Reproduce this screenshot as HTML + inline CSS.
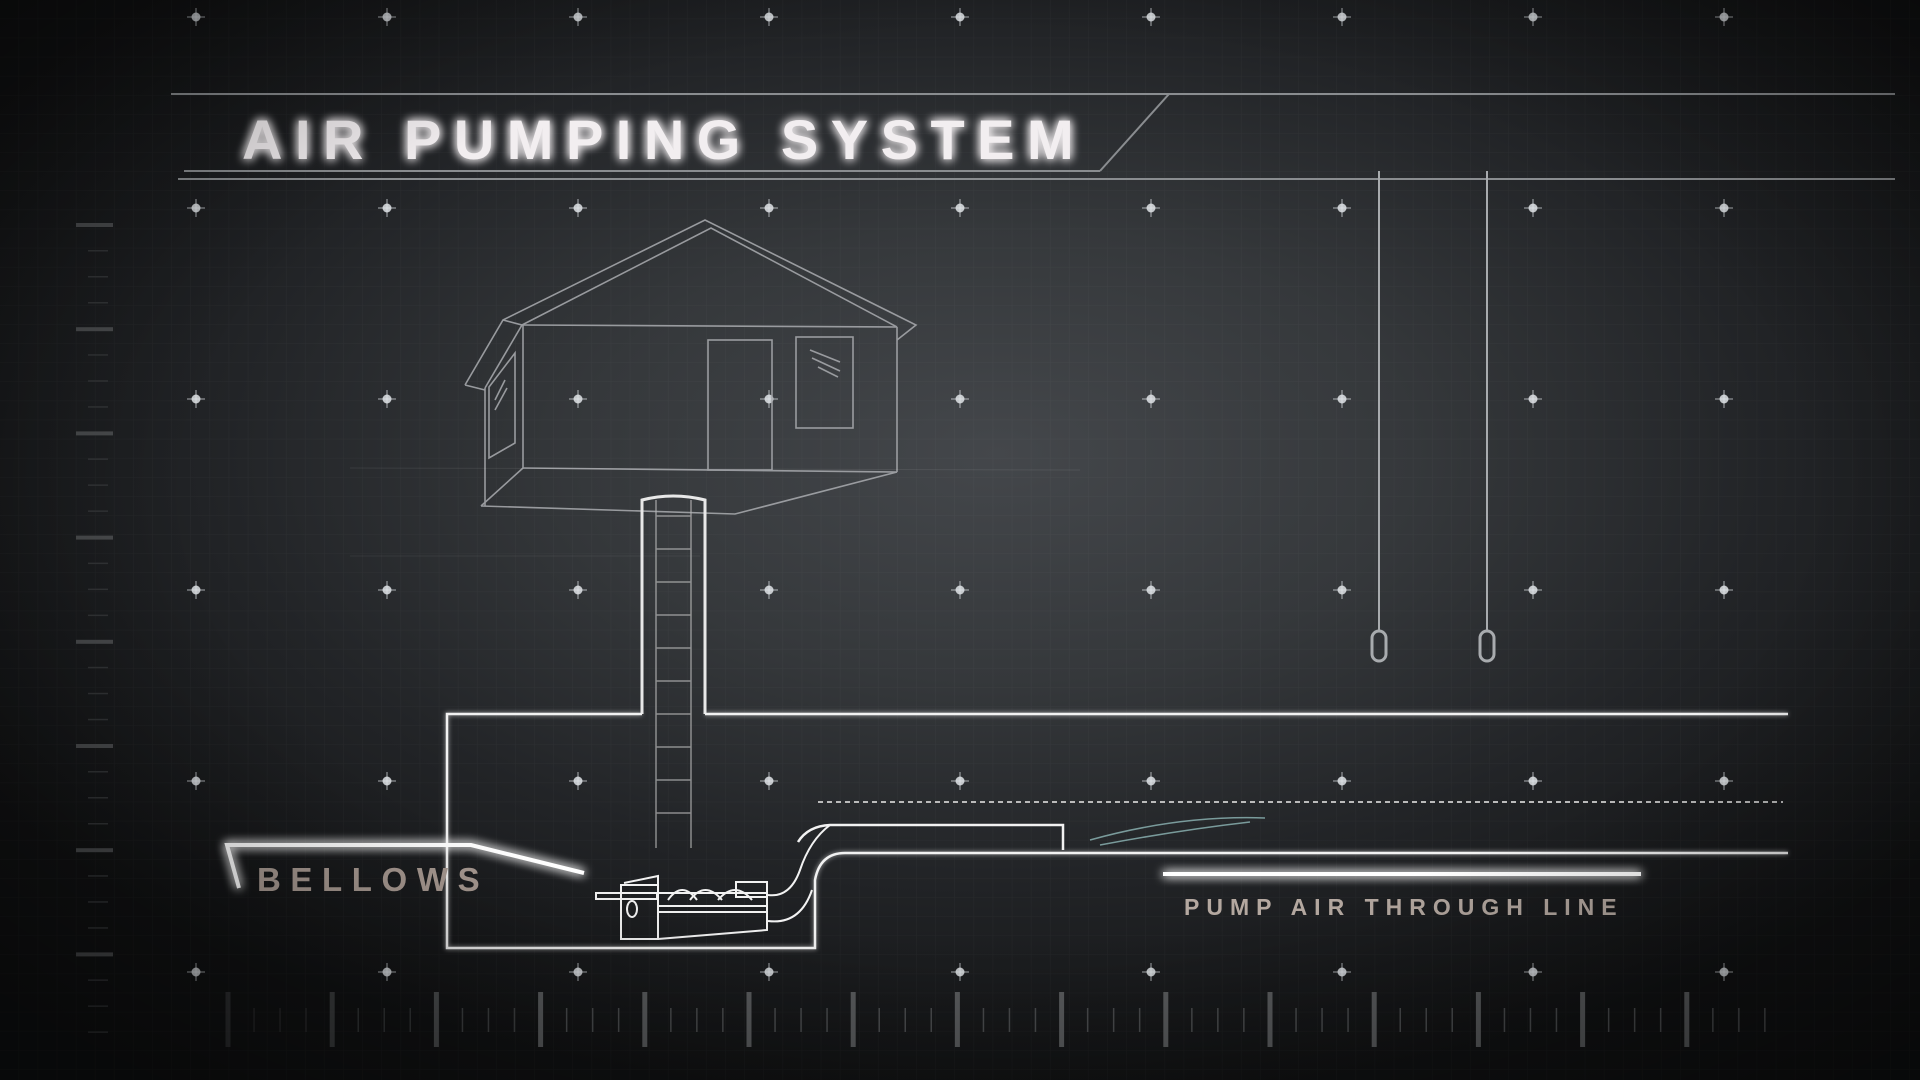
<!DOCTYPE html>
<html><head><meta charset="utf-8"><style>
html,body{margin:0;padding:0;background:#0e0f10;}
#c{position:relative;width:1920px;height:1080px;overflow:hidden;
background:radial-gradient(ellipse 62% 60% at 52% 42%,#44474b 0%,#35383b 35%,#222427 65%,#111213 100%);}
svg{position:absolute;left:0;top:0;}
.t{font-family:"Liberation Sans",Arial,sans-serif;font-weight:bold;}
</style></head><body><div id="c">
<svg width="1920" height="1080" viewBox="0 0 1920 1080">
<defs>
<pattern id="g" width="19.1" height="19.1" patternUnits="userSpaceOnUse"><path d="M19.1 0V19.1H0" fill="none" stroke="#ffffff" stroke-opacity="0.035" stroke-width="1"/></pattern>
<filter id="glow" filterUnits="userSpaceOnUse" x="0" y="0" width="1920" height="1080"><feGaussianBlur stdDeviation="5" result="b"/><feMerge><feMergeNode in="b"/><feMergeNode in="b"/><feMergeNode in="SourceGraphic"/></feMerge></filter>
<filter id="soft" filterUnits="userSpaceOnUse" x="0" y="0" width="1920" height="1080"><feGaussianBlur stdDeviation="2.5"/></filter>
<radialGradient id="vig" cx="52%" cy="45%" r="70%"><stop offset="60%" stop-color="#000" stop-opacity="0"/><stop offset="100%" stop-color="#000" stop-opacity="0.5"/></radialGradient>
</defs>
<rect width="1920" height="1080" fill="url(#g)"/>
<g fill="#e0e4e8" id="dots"></g>
<g stroke="#8a8d90" stroke-width="2" fill="none">
<line x1="171" y1="94" x2="1895" y2="94"/>
<line x1="1169" y1="94" x2="1100" y2="171"/>
<line x1="184" y1="171" x2="1100" y2="171"/>
<line x1="178" y1="179" x2="1895" y2="179"/>
</g>
<text class="t" x="242" y="159" font-size="56" fill="#f2eef0" letter-spacing="12.5" filter="url(#glow)">AIR PUMPING SYSTEM</text>
<g stroke="#a4a6aa" stroke-width="1.6" fill="none" opacity="0.9">
<polyline points="465,385 503,320 705,220 916,325 897,340"/>
<polyline points="465,385 485,390"/>
<polyline points="503,320 522,325 711,228 897,327"/>
<line x1="522" y1="325" x2="897" y2="327"/>
<line x1="523" y1="325" x2="523" y2="468"/>
<line x1="897" y1="327" x2="897" y2="472"/>
<line x1="523" y1="468" x2="897" y2="472"/>
<line x1="485" y1="388" x2="485" y2="506"/>
<line x1="485" y1="388" x2="522" y2="325"/>
<polyline points="481,506 735,514 897,472"/>
<line x1="481" y1="506" x2="523" y2="468"/>
<rect x="708" y="340" width="64" height="130"/>
<rect x="796" y="337" width="57" height="91"/>
<polygon points="489,387 515,353 515,443 489,458"/>
<line x1="810" y1="350" x2="840" y2="362"/><line x1="812" y1="358" x2="840" y2="371"/><line x1="818" y1="367" x2="838" y2="377"/>
<line x1="495" y1="400" x2="505" y2="380"/><line x1="495" y1="410" x2="507" y2="388"/>
</g>
<line x1="350" y1="468" x2="1080" y2="470" stroke="#ffffff" stroke-opacity="0.08"/>
<line x1="350" y1="556" x2="700" y2="556" stroke="#ffffff" stroke-opacity="0.06"/>
<g stroke="#a8abae" stroke-width="2" fill="none">
<line x1="1379" y1="171" x2="1379" y2="631"/>
<line x1="1487" y1="171" x2="1487" y2="631"/>
<rect x="1372" y="631" width="14" height="30" rx="7" stroke-width="3"/>
<rect x="1480" y="631" width="14" height="30" rx="7" stroke-width="3"/>
</g>
<g stroke="#e8e8e8" stroke-width="3" fill="none">
<path d="M642 714 V500 Q673 492 705 500 V714"/>
</g>
<g stroke="#b8b8b8" stroke-width="1.5" fill="none" opacity="0.7">
<line x1="656" y1="500" x2="656" y2="848"/><line x1="691" y1="500" x2="691" y2="848"/>
<g id="rungs"></g>
</g>
<g stroke="#eeeeee" stroke-width="3" fill="none" filter="url(#soft)" opacity="0.6">
<path d="M1788 714 H705 M642 714 H447 V948 H815 V880 Q820 853 845 853 H1788"/>
</g>
<g stroke="#f2f2f2" stroke-width="2.5" fill="none">
<path d="M1788 714 H705 M642 714 H447 V948 H815 V880 Q820 853 845 853 H1788"/>
<path d="M798 842 Q808 826 830 825 H1063 V850"/>
<line x1="818" y1="802" x2="1783" y2="802" stroke-dasharray="5 4" stroke-width="2" stroke="#bbb"/>
</g>
<g stroke="#8fb8b8" stroke-width="1.5" fill="none" opacity="0.8">
<path d="M1090 840 Q1180 815 1265 818"/><path d="M1100 845 Q1180 830 1250 822"/>
</g>
<g stroke="#f2f2f2" stroke-width="2" fill="none">
<rect x="596" y="893" width="61" height="6"/>
<rect x="621" y="885" width="37" height="54"/>
<polyline points="624,883 658,876 658,885"/>
<ellipse cx="632" cy="909" rx="5" ry="8"/>
<polyline points="658,893 767,893 767,930 658,939"/>
<line x1="658" y1="906" x2="767" y2="906"/><line x1="658" y1="912" x2="767" y2="912"/>
<path d="M668 900 Q682 880 697 900 M690 900 Q705 880 722 900 M718 900 Q735 880 752 900"/>
<rect x="736" y="882" width="31" height="15"/>
<path d="M768 895 Q790 898 800 870 Q810 840 830 825"/>
<path d="M768 921 Q800 925 812 890"/>
</g>
<g stroke="#ffffff" stroke-width="4" fill="none" filter="url(#glow)">
<polyline points="239,888 227,845 471,845 584,873"/>
</g>
<text class="t" x="257" y="891" font-size="33" fill="#a89a92" letter-spacing="9.6">BELLOWS</text>
<line x1="1163" y1="874" x2="1641" y2="874" stroke="#fff" stroke-width="4" filter="url(#glow)"/>
<text class="t" x="1184" y="915" font-size="23" fill="#b4a8a0" letter-spacing="7">PUMP AIR THROUGH LINE</text>
<g id="rul"></g>
<rect width="1920" height="1080" fill="url(#vig)"/>
</svg>
<script>
var ns="http://www.w3.org/2000/svg";
function el(p,t,a){var e=document.createElementNS(ns,t);for(var k in a)e.setAttribute(k,a[k]);p.appendChild(e);return e;}
var d=document.getElementById("dots");
var xs=[196,387,578,769,960,1151,1342,1533,1724],ys=[17,208,399,590,781,972];
xs.forEach(function(x){ys.forEach(function(y){el(d,"circle",{cx:x,cy:y,r:4.5,opacity:0.85});el(d,"rect",{x:x-9,y:y-0.8,width:18,height:1.6,opacity:0.45});el(d,"rect",{x:x-0.8,y:y-9,width:1.6,height:18,opacity:0.45});});});
var r=document.getElementById("rungs");
for(var y=516;y<840;y+=33)el(r,"line",{x1:656,y1:y,x2:691,y2:y});
var R=document.getElementById("rul");
for(var i=0;i<8;i++){var y0=225+i*104.2;el(R,"rect",{x:76,y:y0-2,width:37,height:4,fill:"#4a4c4e"});
for(var j=1;j<4;j++)el(R,"rect",{x:88,y:y0+j*26-1,width:20,height:1.5,fill:"#333537"});}
for(var i=0;i<15;i++){var x0=228+i*104.2;var op=Math.min(1,0.4+i*0.2);el(R,"rect",{x:x0-2.5,y:992,width:5,height:55,fill:"#5a5c5e",opacity:op});
for(var j=1;j<4;j++)el(R,"rect",{x:x0+j*26-0.7,y:1008,width:1.5,height:24,fill:"#4a4c4e",opacity:op});}
</script>
</div></body></html>
